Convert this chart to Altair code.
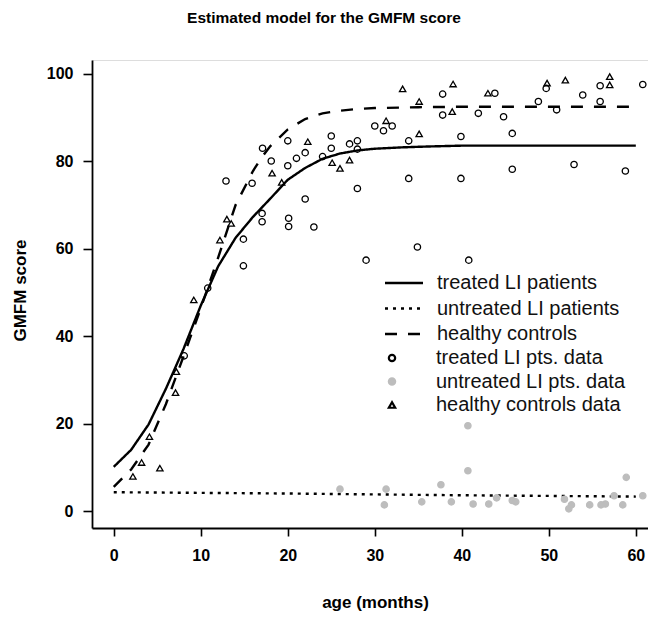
import altair as alt
import pandas as pd

# ---------------- data ----------------
model_names = ["treated LI patients", "untreated LI patients", "healthy controls"]
point_names = ["treated LI pts. data", "untreated LI pts. data", "healthy controls data"]

treated_fit_age = [0, 2, 4, 6, 8, 10, 12, 14, 16, 18, 20, 22, 24, 26, 28, 30, 33, 36, 40, 45, 50, 55, 60]
treated_fit_score = [10.1, 14.0, 19.8, 28.0, 37.0, 47.0, 56.0, 62.5, 67.3, 71.5, 75.8, 78.5, 80.6,
                     81.8, 82.5, 82.9, 83.2, 83.4, 83.6, 83.6, 83.6, 83.6, 83.6]

untreated_fit_age = [0, 20, 40, 60]
untreated_fit_score = [4.3, 4.0, 3.6, 3.3]

healthy_fit_age = [0, 2, 4, 6, 8, 10, 12, 14, 16, 17, 18, 20, 22, 24, 26, 28, 30, 35, 40, 50, 60]
healthy_fit_score = [5.5, 9.5, 15.2, 24.5, 35.3, 46.4, 58.0, 70.0, 77.8, 80.9, 83.5, 87.3, 89.7, 91.0,
                     91.6, 92.0, 92.2, 92.4, 92.5, 92.5, 92.5]

treated_age = [8.1, 10.8, 12.9, 14.9, 14.9, 15.9, 17.1, 17.05, 17.05, 18.1, 20.0, 20.0, 20.1, 20.1,
               21.0, 22.0, 22.0, 23.0, 24.0, 25.0, 25.0, 27.1, 28.0, 28.0, 28.0, 29.0, 30.0, 31.0,
               32.0, 33.9, 33.9, 34.9, 37.8, 37.8, 39.9, 39.9, 40.8, 41.9, 43.8, 44.8, 45.8, 45.8,
               48.8, 49.7, 50.9, 52.9, 53.9, 55.9, 55.9, 58.8, 60.8]
treated_score = [35.5, 51.0, 75.5, 62.2, 56.1, 75.0, 83.0, 68.1, 66.2, 80.1, 84.7, 79.0, 67.0, 65.1,
                 80.7, 82.0, 71.4, 65.0, 81.1, 85.8, 83.0, 84.0, 84.7, 82.8, 73.8, 57.4, 88.1, 87.0,
                 88.1, 84.7, 76.1, 60.4, 95.4, 90.6, 85.7, 76.1, 57.4, 91.0, 95.6, 90.2, 86.4, 78.2,
                 93.7, 96.7, 91.8, 79.3, 95.2, 97.3, 93.7, 77.8, 97.6]

untreated_age = [26.0, 31.3, 31.1, 37.6, 35.4, 38.8, 40.7, 40.7, 41.3, 43.1, 44.0, 45.8, 46.2, 51.8,
                 52.3, 52.6, 54.7, 56.0, 56.5, 57.5, 58.5, 58.9, 60.8]
untreated_score = [5.0, 5.0, 1.4, 6.0, 2.1, 2.1, 19.5, 9.2, 1.6, 1.6, 3.0, 2.4, 2.1, 2.7,
                   0.5, 1.4, 1.4, 1.4, 1.6, 3.5, 1.4, 7.7, 3.5]

healthy_age = [2.2, 3.2, 4.1, 5.3, 7.1, 7.2, 9.2, 12.2, 13.0, 13.5, 18.2, 19.3, 22.3, 25.1, 26.0,
               27.1, 31.3, 33.2, 35.1, 35.1, 38.9, 39.0, 43.0, 49.8, 51.9, 57.0, 57.0]
healthy_score = [7.9, 11.1, 17.0, 9.8, 27.1, 31.9, 48.3, 62.0, 66.8, 65.8, 77.3, 75.2, 84.5, 79.7,
                 78.4, 80.3, 89.3, 96.6, 93.7, 86.3, 91.4, 97.7, 95.6, 97.9, 98.6, 99.4, 97.5]

x_ticks = [0, 10, 20, 30, 40, 50, 60]
y_ticks = [0, 20, 40, 60, 80, 100]

# ---------------- tables ----------------
lines_df = pd.concat([
    pd.DataFrame({"age": treated_fit_age, "score": treated_fit_score, "model": model_names[0]}),
    pd.DataFrame({"age": untreated_fit_age, "score": untreated_fit_score, "model": model_names[1]}),
    pd.DataFrame({"age": healthy_fit_age, "score": healthy_fit_score, "model": model_names[2]}),
])
points_df = pd.concat([
    pd.DataFrame({"age": treated_age, "score": treated_score, "group": point_names[0]}),
    pd.DataFrame({"age": untreated_age, "score": untreated_score, "group": point_names[1]}),
    pd.DataFrame({"age": healthy_age, "score": healthy_score, "group": point_names[2]}),
])

FONT = "Liberation Sans"
W, H = 556, 468

x_scale = alt.Scale(domain=[-2.5, 61.4], nice=False, zero=False)
y_scale = alt.Scale(domain=[-3.89, 103.2], nice=False, zero=False)

common_axis = dict(domain=True, domainColor="black", domainWidth=1.8, grid=False,
                   tickWidth=1.6, tickColor="black", labelFont=FONT, labelFontSize=16,
                   labelFontWeight="bold", labelColor="black", labelFlush=False, format="d",
                   titleFont=FONT, titleFontSize=17, titleFontWeight="bold", titleColor="black",
                   titleAlign="center", titleBaseline="middle")

x_axis = alt.Axis(values=x_ticks, tickSize=8, labelPadding=11, title="age (months)",
                  titleX=283, titleY=74, **common_axis)
y_axis = alt.Axis(values=y_ticks, tickSize=9, labelPadding=10, title="GMFM score",
                  titleX=-72, titleY=230, titleAngle=270, **common_axis)

lines = alt.Chart(lines_df).mark_line(color="black", strokeWidth=2.4, clip=True).encode(
    x=alt.X("age:Q", scale=x_scale, axis=x_axis),
    y=alt.Y("score:Q", scale=y_scale, axis=y_axis),
    strokeDash=alt.StrokeDash(
        "model:N",
        scale=alt.Scale(domain=model_names, range=[[1, 0], [3, 5], [12, 11]]),
        legend=alt.Legend(orient="none", legendX=301, legendY=212, title=None,
                          symbolType="M-2,0H2", symbolSize=361, symbolStrokeWidth=2.5,
                          symbolStrokeColor="black", symbolFillColor="transparent",
                          labelFont=FONT, labelFontSize=20,
                          labelColor="#111", labelOffset=22, labelLimit=0, padding=0,
                          rowPadding=4.5),
    ),
    detail="model:N",
)

points = alt.Chart(points_df).mark_point(strokeWidth=1.3, opacity=1, clip=False).encode(
    x=alt.X("age:Q", scale=x_scale),
    y=alt.Y("score:Q", scale=y_scale),
    shape=alt.Shape("group:N", scale=alt.Scale(domain=point_names,
                                               range=["circle", "circle", "triangle-up"]),
                    legend=alt.Legend(orient="none", legendX=290, legendY=288, title=None,
                                      symbolStrokeWidth=2.2, labelFont=FONT, labelFontSize=20,
                                      labelColor="#111", labelOffset=34, labelLimit=0,
                                      padding=0, rowPadding=3.5)),
    fill=alt.Fill("group:N", scale=alt.Scale(domain=point_names,
                                             range=["transparent", "#bdbdbd", "transparent"])),
    stroke=alt.Stroke("group:N", scale=alt.Scale(domain=point_names,
                                                 range=["black", "#bdbdbd", "black"])),
    size=alt.Size("group:N", scale=alt.Scale(domain=point_names, range=[40, 40, 200])),
)

chart = alt.layer(lines, points).properties(
    width=W, height=H,
    title=alt.TitleParams("Estimated model for the GMFM score", font=FONT, fontSize=15.5,
                          fontWeight="bold", color="black", anchor="middle", dx=-46,
                          offset=34),
    autosize=alt.AutoSizeParams(type="none"),
    padding={"left": 92, "top": 60, "right": 0, "bottom": 89},
).configure_view(stroke=None).configure(background="white")

chart.save("out.html", embed_options={"renderer": "svg", "actions": False})
